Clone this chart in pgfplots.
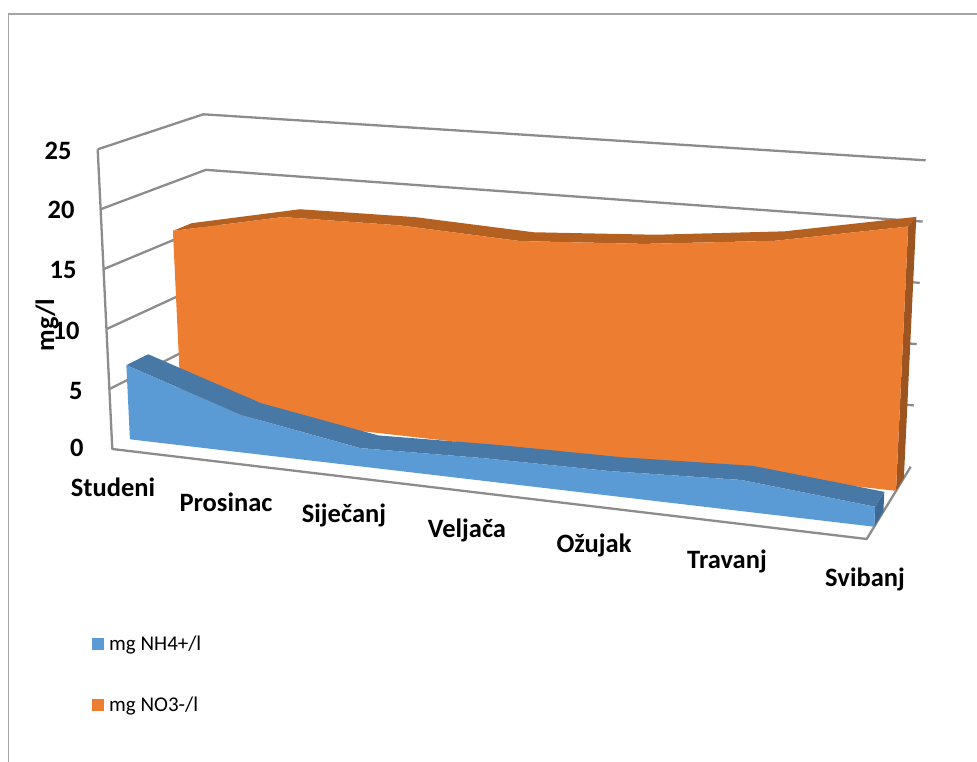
\documentclass[border=0pt]{standalone}
\usepackage{pgfplots}
\usepackage{pgfplotstable}
\usepackage{fontspec}
\setmainfont{Carlito}
\pgfplotsset{compat=1.18}

\definecolor{framegray}{HTML}{A6A6A6}
\definecolor{wallgray}{HTML}{8C8C8C}
\definecolor{bluefront}{HTML}{5B9BD5}
\definecolor{bluetop}{HTML}{4878A6}
\definecolor{blueside}{HTML}{3D6A94}
\definecolor{orangefront}{HTML}{ED7D31}
\definecolor{orangetop}{HTML}{B36020}
\definecolor{orangeside}{HTML}{9C5520}

% picture position of a point: u along the months, d into the depth, z the value
\pgfmathdeclarefunction{projx}{3}{%
  \begingroup
  \pgfmathsetmacro\fx{(1-#2)*((1-#1)*112.3+#1*866.7)+#2*((1-#1)*216+#1*910.7)}%
  \pgfmathsetmacro\tx{(1-#2)*((1-#1)*97.7+#1*880)+#2*((1-#1)*203.3+#1*925.7)}%
  \pgfmathparse{\fx+#3/25*(\tx-\fx)}%
  \pgfmathsmuggle\pgfmathresult
  \endgroup}
\pgfmathdeclarefunction{projy}{3}{%
  \begingroup
  \pgfmathsetmacro\fy{(1-#2)*((1-#1)*449+#1*539)+#2*((1-#1)*392+#1*466.7)}%
  \pgfmathsetmacro\ty{(1-#2)*((1-#1)*149.3+#1*211)+#2*((1-#1)*114.3+#1*160.3)}%
  \pgfmathparse{\fy+#3/25*(\ty-\fy)}%
  \pgfmathsmuggle\pgfmathresult
  \endgroup}

% wall lines
\pgfplotstableread{
u d
0 0
0 1
1 1
}\wallline
\pgfplotstableread{
u d z
0 0 25
0 0 0
1 0 0
1 1 0
}\floorline

% NO3
\pgfplotstableread{
u d z
0 0.666 15.8
0.151 0.666 17.8
0.31 0.666 17.9
0.474 0.666 17.4
0.643 0.666 18.0
0.82 0.666 19.1
1 0.666 21.07
1 0.666 0
0 0.666 0
}\orangefrontface
\pgfplotstableread{
u d z
0 0.666 15.8
0.151 0.666 17.8
0.31 0.666 17.9
0.474 0.666 17.4
0.643 0.666 18.0
0.82 0.666 19.1
1 0.666 21.07
1 0.845 21.07
0.82 0.845 19.1
0.643 0.845 18.0
0.474 0.845 17.4
0.31 0.845 17.9
0.151 0.845 17.8
0 0.845 15.8
}\orangetopface
\pgfplotstableread{
u d z
1 0.666 21.07
1 0.845 21.07
1 0.845 0
1 0.666 0
}\orangesideface

% NH4
\pgfplotstableread{
u d z
0 0.17 6.27
0.151 0.17 3.12
0.31 0.17 1.5
0.474 0.17 1.83
0.643 0.17 1.95
0.82 0.17 2.43
1 0.17 1.54
1 0.17 0
0 0.17 0
}\bluefrontface
\pgfplotstableread{
u d z
0 0.17 6.27
0.151 0.17 3.12
0.31 0.17 1.5
0.474 0.17 1.83
0.643 0.17 1.95
0.82 0.17 2.43
1 0.17 1.54
1 0.38 1.54
0.82 0.38 2.43
0.643 0.38 1.95
0.474 0.38 1.83
0.31 0.38 1.5
0.151 0.38 3.12
0 0.38 6.27
}\bluetopface
\pgfplotstableread{
u d z
1 0.17 1.54
1 0.38 1.54
1 0.38 0
1 0.17 0
}\bluesideface

\newcommand{\face}[2]{%
  \addplot[fill=#1, draw=none] table[
    x expr={projx(\thisrow{u},\thisrow{d},\thisrow{z})},
    y expr={projy(\thisrow{u},\thisrow{d},\thisrow{z})}] {#2};}

\begin{document}
\begin{tikzpicture}
\useasboundingbox (0,0) rectangle (977pt,762pt);
\begin{axis}[
  at={(0,0)}, anchor=south west,
  scale only axis,
  width=977pt, height=762pt,
  xmin=0, xmax=977,
  ymin=0, ymax=762,
  y dir=reverse,
  hide axis,
  clip=false,
  every node/.style={text=black},
]
% outer frame
\addplot[framegray, line width=1.2pt] coordinates {(8.5,762)(8.5,14)(977,14)};

% walls
\pgfplotsinvokeforeach{5,10,15,20,25}{
  \addplot[wallgray, line width=2.3pt, line join=round] table[
    x expr={projx(\thisrow{u},\thisrow{d},#1)},
    y expr={projy(\thisrow{u},\thisrow{d},#1)}] {\wallline};
}
\addplot[wallgray, line width=2.3pt, line join=round] table[
    x expr={projx(\thisrow{u},\thisrow{d},\thisrow{z})},
    y expr={projy(\thisrow{u},\thisrow{d},\thisrow{z})}] {\floorline};

% areas, back to front
\face{orangetop}{\orangetopface}
\face{orangeside}{\orangesideface}
\face{orangefront}{\orangefrontface}
\face{bluetop}{\bluetopface}
\face{blueside}{\bluesideface}
\face{bluefront}{\bluefrontface}

% value labels
\begin{scope}[every node/.append style={font=\fontsize{26.5}{26.5}\selectfont\bfseries}]
\node[anchor=east] at (axis cs:75,150.5) {25};
\node[anchor=east] at (axis cs:78,210) {20};
\node[anchor=east] at (axis cs:80,270) {15};
\node[anchor=east] at (axis cs:83,331) {10};
\node[anchor=east] at (axis cs:86,391) {5};
\node[anchor=east] at (axis cs:87,448) {0};
\node[rotate=90] at (axis cs:47,325) {mg/l};
\node at (axis cs:113,487) {Studeni};
\node at (axis cs:226,502) {Prosinac};
\node at (axis cs:344,515) {Siječanj};
\node at (axis cs:467,530) {Veljača};
\node at (axis cs:594,545) {Ožujak};
\node at (axis cs:727,561) {Travanj};
\node at (axis cs:865,579) {Svibanj};
\end{scope}

% legend
\addplot[fill=bluefront, draw=none] coordinates {(92,638)(104,638)(104,650)(92,650)};
\addplot[fill=orangefront, draw=none] coordinates {(92,699)(104,699)(104,711)(92,711)};
\begin{scope}[every node/.append style={font=\fontsize{21}{21}\selectfont, inner sep=0pt}]
\node[anchor=west] at (axis cs:109,645) {mg NH4+/l};
\node[anchor=west] at (axis cs:109,706) {mg NO3-/l};
\end{scope}
\end{axis}
\end{tikzpicture}
\end{document}
